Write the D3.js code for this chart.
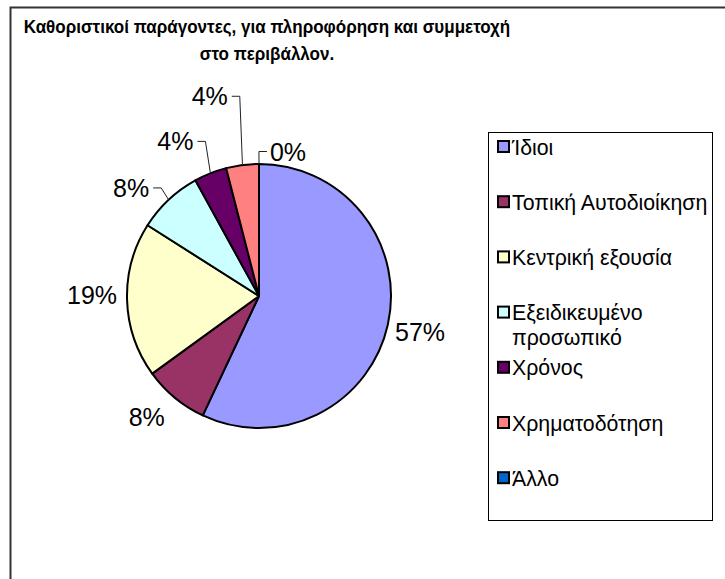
<!DOCTYPE html>
<html>
<head>
<meta charset="utf-8">
<script src="https://cdn.jsdelivr.net/npm/d3@7"></script>
<style>
  html, body { margin: 0; padding: 0; background: #ffffff; }
  svg { display: block; font-family: "Liberation Sans", Arial, sans-serif; }
</style>
</head>
<body>
<svg id="chart" width="725" height="579"></svg>
<script>
// Survey shares: who determines information & participation on environmental issues
const categories = ["Ίδιοι", "Τοπική Αυτοδιοίκηση", "Κεντρική εξουσία", "Εξειδικευμένο προσωπικό", "Χρόνος", "Χρηματοδότηση", "Άλλο"];
const values = [57, 8, 19, 8, 4, 4, 0];
const sliceColors = ["#9999FF", "#993366", "#FFFFCC", "#CCFFFF", "#660066", "#FF8080", "#0066CC"];
const legendLabels = [["Ίδιοι"], ["Τοπική Αυτοδιοίκηση"], ["Κεντρική εξουσία"], ["Εξειδικευμένο", "προσωπικό"], ["Χρόνος"], ["Χρηματοδότηση"], ["Άλλο"]];
const titleLines = ["Καθοριστικοί παράγοντες, για πληροφόρηση και συμμετοχή", "στο περιβάλλον."];

// Label placement tweaks (pixels) relative to the default radial position
const labelNudge = [[3, 1], [-9, -4], [-5, -6], [-17, 10], [-24, -4], [-29, -39], [29, 17.5]];

const svg = d3.select("#chart");
const W = 725, H = 579;

// Outer chart frame
svg.append("rect")
  .attr("x", 10.5).attr("y", 7.5)
  .attr("width", W + 20).attr("height", H + 20)
  .attr("fill", "#ffffff")
  .attr("stroke", "#333333").attr("stroke-width", 2);

// Title (slightly condensed bold face)
const titleCx = 267, titleWidth = 487;
const titleG = svg.append("g");
const title = titleG.append("text")
  .attr("text-anchor", "middle")
  .attr("font-weight", "bold")
  .attr("font-size", 18.5)
  .attr("fill", "#000");
const tspans = titleLines.map((t, i) =>
  title.append("tspan").attr("x", 0).attr("y", 33 + i * 27).text(t));
const firstLen = tspans[0].node().getComputedTextLength();
const sx = Math.min(1, titleWidth / firstLen);
titleG.attr("transform", `translate(${titleCx},0) scale(${sx},1)`);

// Pie
const cx = 259, cy = 296, r = 132;
const total = d3.sum(values);
const pie = d3.pie().sort(null).value(d => d);
const arcs = pie(values);
const arc = d3.arc().innerRadius(0).outerRadius(r);

const g = svg.append("g").attr("transform", `translate(${cx},${cy})`);
g.selectAll("path.slice")
  .data(arcs)
  .join("path")
  .attr("class", "slice")
  .attr("d", arc)
  .attr("fill", (d, i) => sliceColors[i])
  .attr("stroke", "#000")
  .attr("stroke-width", 2)
  .attr("stroke-linejoin", "round");

// Percentage labels with leader lines for the small slices
const pct = d3.format(".0%");
const labelR = r + 30;
const polar = (a, rad) => [Math.sin(a) * rad, -Math.cos(a) * rad];

arcs.forEach((d, i) => {
  const mid = (d.startAngle + d.endAngle) / 2;
  const [dx0, dy0] = polar(mid, labelR);
  const lx = dx0 + labelNudge[i][0];
  const ly = dy0 + labelNudge[i][1];
  const txt = g.append("text")
    .attr("x", lx).attr("y", ly)
    .attr("dy", "0.36em")
    .attr("text-anchor", "middle")
    .attr("font-size", 25)
    .attr("fill", "#000")
    .text(pct(values[i] / total));

  const moved = Math.hypot(labelNudge[i][0], labelNudge[i][1]) > 15;
  if (moved) {
    const bb = txt.node().getBBox();
    const [px, py] = polar(mid, r);
    const onLeft = lx < px;
    const sx0 = onLeft ? bb.x + bb.width + 4 : bb.x - 3;
    const mx = onLeft ? sx0 + 8 : sx0 - 8;
    g.append("path")
      .attr("d", `M${sx0},${ly}L${mx},${ly}L${px},${py}`)
      .attr("fill", "none")
      .attr("stroke", "#222")
      .attr("stroke-width", 1);
  }
});

// Legend
const legend = svg.append("g");
legend.append("rect")
  .attr("x", 488.5).attr("y", 132.5)
  .attr("width", 224).attr("height", 388)
  .attr("fill", "#ffffff")
  .attr("stroke", "#000").attr("stroke-width", 1);

const rowTop = 147, rowStep = 55.2, lineH = 25;
categories.forEach((c, i) => {
  const yc = rowTop + i * rowStep;
  legend.append("rect")
    .attr("x", 498).attr("y", yc - 6)
    .attr("width", 11).attr("height", 11)
    .attr("fill", sliceColors[i])
    .attr("stroke", "#000").attr("stroke-width", 2);
  const t = legend.append("text")
    .attr("font-size", 21.3)
    .attr("fill", "#000");
  legendLabels[i].forEach((line, k) => {
    t.append("tspan")
      .attr("x", 512)
      .attr("y", yc + k * lineH)
      .attr("dy", "0.36em")
      .text(line);
  });
});
</script>
</body>
</html>
